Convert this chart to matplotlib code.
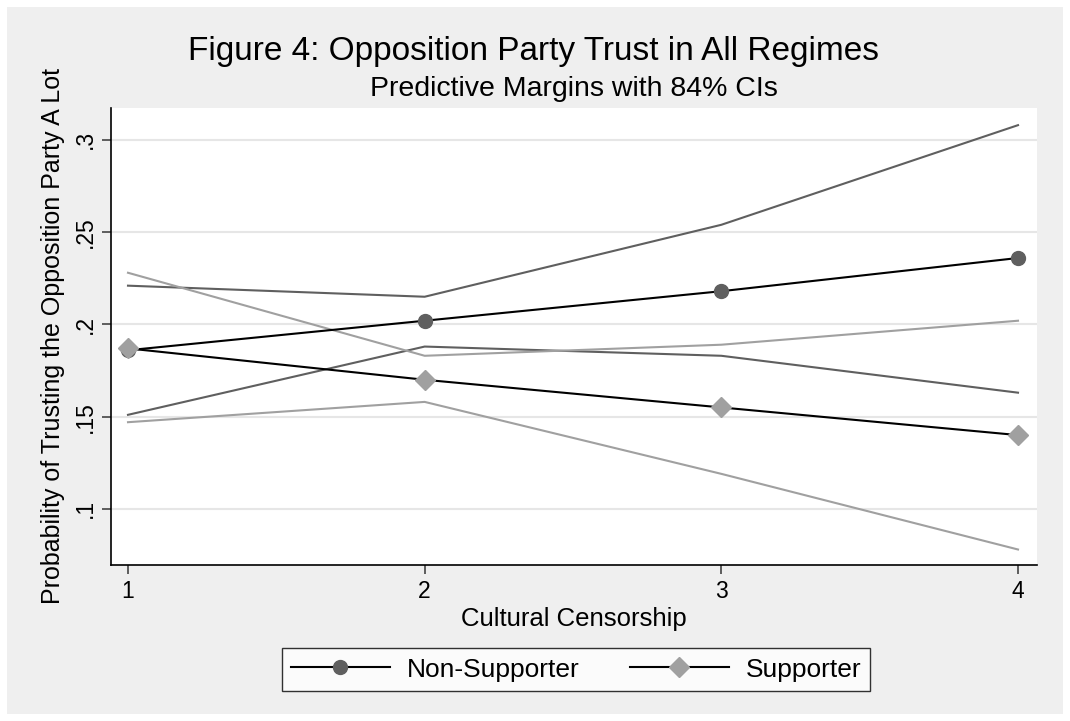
import matplotlib.pyplot as plt

# predictive margins by level of cultural censorship
censorship = [1, 2, 3, 4]

nonsup_margin = [0.186, 0.202, 0.218, 0.236]
nonsup_lo = [0.151, 0.188, 0.183, 0.163]
nonsup_hi = [0.221, 0.215, 0.254, 0.308]

sup_margin = [0.187, 0.170, 0.155, 0.140]
sup_lo = [0.147, 0.158, 0.119, 0.078]
sup_hi = [0.228, 0.183, 0.189, 0.202]

yticks = [0.1, 0.15, 0.2, 0.25, 0.3]
ytick_labels = [".1", ".15", ".2", ".25", ".3"]

plt.rcParams['font.family'] = ['Liberation Sans', 'DejaVu Sans']

bg = '#efefef'
dark = '#5f5f5f'
light = '#a0a0a0'

fig = plt.figure(figsize=(10.7, 7.21), dpi=100, facecolor='white')
# light gray graph region inside a thin white border
fig.patches.append(plt.Rectangle((7 / 1070, 7 / 721), 1056 / 1070, 707 / 721,
                                 transform=fig.transFigure, facecolor=bg,
                                 edgecolor='none', zorder=-1))

ax = fig.add_axes([111 / 1070, 1 - 565 / 721, 926 / 1070, 457 / 721])
ax.set_facecolor('white')

# confidence bounds
ax.plot(censorship, nonsup_hi, color=dark, lw=1.5, zorder=2)
ax.plot(censorship, nonsup_lo, color=dark, lw=1.5, zorder=2)
ax.plot(censorship, sup_hi, color=light, lw=1.5, zorder=2)
ax.plot(censorship, sup_lo, color=light, lw=1.5, zorder=2)

# margins
ax.plot(censorship, nonsup_margin, color='black', lw=1.5, marker='o',
        markersize=10, markerfacecolor=dark, markeredgecolor=dark,
        label='Non-Supporter', zorder=3)
ax.plot(censorship, sup_margin, color='black', lw=1.5, marker='D',
        markersize=10, markerfacecolor=light, markeredgecolor=light,
        label='Supporter', zorder=3)

ax.set_xlim(0.9427, 4.064)
ax.set_ylim(0.0696, 0.3173)
ax.set_xticks(censorship)
ax.set_xticklabels(['1', '2', '3', '4'])
ax.set_yticks(yticks)
ax.set_yticklabels(ytick_labels, rotation=90, va='center')
ax.grid(axis='y', color='#e6e6e6', lw=1.5)
ax.set_axisbelow(True)

for side in ['top', 'right']:
    ax.spines[side].set_visible(False)
for side in ['left', 'bottom']:
    ax.spines[side].set_color('black')
    ax.spines[side].set_linewidth(1.2)
ax.tick_params(axis='both', length=6.5, width=1.2, color='#444444',
               labelsize=16.5, pad=4)

ax.set_xlabel('Cultural Censorship', fontsize=18.5, labelpad=3)
ax.set_ylabel('Probability of Trusting the Opposition Party A Lot',
              fontsize=18, labelpad=6)

fig.text(533 / 1070, 1 - 60 / 721,
         'Figure 4: Opposition Party Trust in All Regimes',
         ha='center', va='baseline', fontsize=24)
fig.text(574 / 1070, 1 - 96 / 721, 'Predictive Margins with 84% CIs',
         ha='center', va='baseline', fontsize=20.5)

leg = fig.legend(loc='center', bbox_to_anchor=(576 / 1070, 1 - 669.5 / 721),
                 ncol=2, fontsize=19, frameon=True, fancybox=False,
                 edgecolor='black', handlelength=3.75, columnspacing=1.9,
                 borderpad=0.35, handletextpad=0.64)
leg.get_frame().set_linewidth(1.0)

fig.savefig('out.png', dpi=100, facecolor='white')
